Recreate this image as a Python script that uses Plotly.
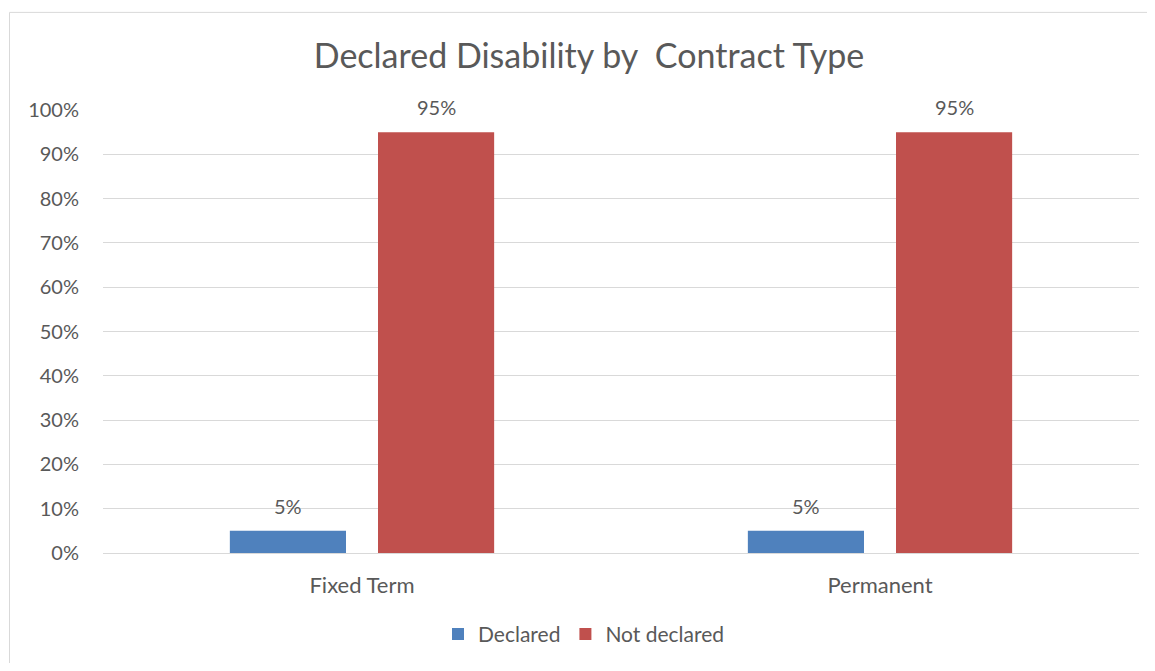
import plotly.graph_objects as go

categories = ["Fixed Term", "Permanent"]
series_names = ["Declared", "Not declared"]
declared = [0.05, 0.05]
not_declared = [0.95, 0.95]
y_ticks = [0, 0.1, 0.2, 0.3, 0.4, 0.5, 0.6, 0.7, 0.8, 0.9, 1.0]
y_tick_labels = ["0%", "10%", "20%", "30%", "40%", "50%", "60%", "70%", "80%", "90%", "100%"]
title_text = "Declared Disability by\u00a0 Contract Type"

colors = ["#4F81BD", "#C0504D"]
text_color = "#595959"
grid_color = "#D9D9D9"
font_family = "Lato, 'Open Sans', sans-serif"

# page has an 8px body margin; figure sized to fit the 1155x671 window
OFF = 8
W, H = 1139, 655
ml, mr, mt, mb = 95, 8, 102, 106
pw, ph = W - ml - mr, H - mt - mb
BARGAP, GROUPGAP = 0.428, 0.216


def px_x(a):
    return (a - OFF - ml) / pw


def px_y(a):
    return 1 - (a - OFF - mt) / ph


fig = go.Figure()
all_vals = [declared, not_declared]
for name, vals, col in zip(series_names, all_vals, colors):
    fig.add_trace(go.Bar(
        x=categories, y=vals, name=name,
        marker=dict(color=col, line=dict(width=0)),
        hoverinfo="x+y+name",
    ))

# data labels placed above each bar (offsets derived from the bar layout)
cat_px = pw / len(categories)
slot_px = cat_px * (1 - BARGAP) / len(series_names)
annotations = []
for i, vals in enumerate(all_vals):
    shift = (i - (len(series_names) - 1) / 2) * slot_px
    for c, v in zip(categories, vals):
        annotations.append(dict(
            x=c, y=v, xref="x", yref="y", text=f"{v:.0%}", showarrow=False,
            xshift=shift, yshift=25, yanchor="middle", xanchor="center",
            font=dict(size=20, color=text_color, family=font_family),
        ))

fig.update_layout(
    width=W, height=H,
    margin=dict(l=ml, r=mr, t=mt, b=mb, pad=0),
    paper_bgcolor="white", plot_bgcolor="white",
    font=dict(family=font_family, color=text_color, size=20),
    barmode="group", bargap=BARGAP, bargroupgap=GROUPGAP,
    title=dict(text=title_text, x=px_x(589), xanchor="center",
               xref="paper",
               y=1 - (56 - OFF) / H, yanchor="middle",
               font=dict(size=34, color=text_color, family=font_family)),
    showlegend=True,
    legend=dict(orientation="h", x=px_x(438), xanchor="left",
                y=px_y(639), yanchor="middle",
                font=dict(size=21, color=text_color, family=font_family),
                traceorder="normal", itemclick=False, itemdoubleclick=False),
    xaxis=dict(showgrid=False, showline=True, linecolor=grid_color, linewidth=1,
               ticks="outside", ticklen=13, tickcolor="rgba(0,0,0,0)",
               tickfont=dict(size=22, color=text_color), fixedrange=True),
    yaxis=dict(range=[0, 1], tickvals=y_ticks, ticktext=y_tick_labels,
               showgrid=True, gridcolor=grid_color, gridwidth=1, zeroline=False,
               ticks="outside", ticklen=19, tickcolor="rgba(0,0,0,0)",
               tickfont=dict(size=20, color=text_color), fixedrange=True),
    annotations=annotations,
    shapes=[dict(type="rect", xref="paper", yref="paper",
                 x0=px_x(9.5), x1=px_x(1180), y0=px_y(700), y1=px_y(11.5),
                 line=dict(color=grid_color, width=1), fillcolor="rgba(0,0,0,0)",
                 layer="below")],
)

fig.write_html("out.html", config={"displayModeBar": False})
